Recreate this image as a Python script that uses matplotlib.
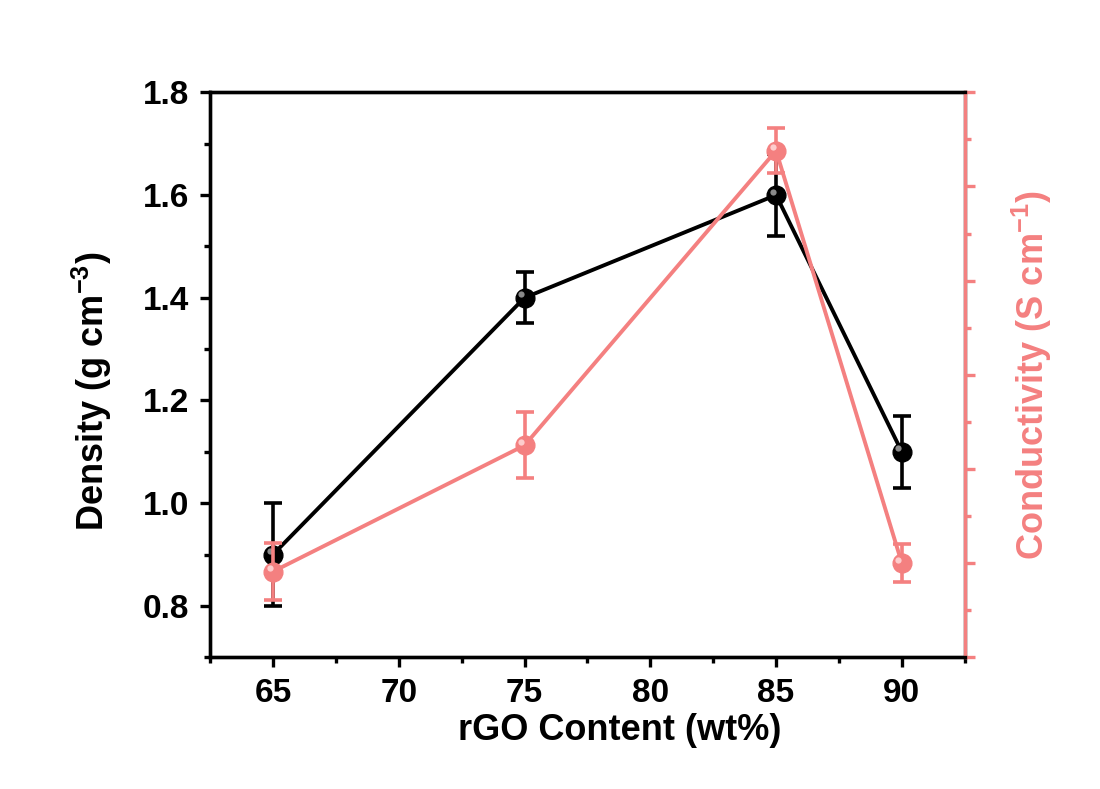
import matplotlib.pyplot as plt
import matplotlib.transforms as mtransforms
from matplotlib.ticker import MultipleLocator, NullFormatter

plt.rcParams['font.family'] = ['Liberation Sans', 'DejaVu Sans']
plt.rcParams['font.weight'] = 'bold'
plt.rcParams['mathtext.fontset'] = 'custom'
plt.rcParams['mathtext.bf'] = 'Liberation Sans:bold'
plt.rcParams['mathtext.rm'] = 'Liberation Sans:bold'
plt.rcParams['mathtext.default'] = 'bf'

rgo = [65, 75, 85, 90]
density = [0.9, 1.4, 1.6, 1.1]
density_err = [0.1, 0.05, 0.08, 0.07]
conductivity = [0.91, 2.25, 5.38, 1.0]
conductivity_err = [0.3, 0.35, 0.24, 0.2]

pink = '#F48080'

fig = plt.figure(figsize=(11, 7.89), dpi=100)
ax = fig.add_axes([0.191, 0.167, 0.686, 0.716])
ax2 = ax.twinx()


def draw(a, y, yerr, color, hl):
    a.errorbar(rgo, y, yerr=yerr, color=color, lw=2.8, elinewidth=2.6,
               capsize=6.5, capthick=2.6, marker='o', ms=13.5, mfc=color,
               mec=color, zorder=3)
    off = mtransforms.offset_copy(a.transData, fig=fig, x=-2.5, y=2.5,
                                  units='points')
    a.plot(rgo, y, 'o', ms=4.5, color=hl, mec='none', alpha=0.9,
           transform=off, zorder=4)


draw(ax, density, density_err, 'black', '#9a9a9a')
draw(ax2, conductivity, conductivity_err, pink, '#ffd6d6')

ax.set_xlim(62.5, 92.5)
ax.set_ylim(0.7, 1.8)
ax2.set_ylim(0, 6)

ax.xaxis.set_major_locator(MultipleLocator(5))
ax.xaxis.set_minor_locator(MultipleLocator(2.5))
ax.yaxis.set_major_locator(MultipleLocator(0.2))
ax.yaxis.set_minor_locator(MultipleLocator(0.1))
ax.yaxis.set_major_formatter(plt.FormatStrFormatter('%.1f'))
ax2.yaxis.set_major_locator(MultipleLocator(1))
ax2.yaxis.set_minor_locator(MultipleLocator(0.5))
ax2.yaxis.set_major_formatter(NullFormatter())

for a in (ax, ax2):
    for s in a.spines.values():
        s.set_linewidth(2.4)
ax2.spines['right'].set_color(pink)
ax.tick_params(axis='both', which='major', direction='out', length=7,
               width=2.4, labelsize=24, pad=8)
ax.tick_params(axis='both', which='minor', direction='out', length=4,
               width=2.4)
ax2.tick_params(axis='y', which='major', direction='out', length=7,
                width=2.4, color=pink)
ax2.tick_params(axis='y', which='minor', direction='out', length=4,
                width=2.4, color=pink)

ax.set_xlabel('rGO Content (wt%)', fontsize=26, fontweight='bold')
ax.set_ylabel('Density (g cm$^{-3}$)', fontsize=26, fontweight='bold')
ax2.set_ylabel('Conductivity (S cm$^{-1}$)', fontsize=26, fontweight='bold',
               color=pink, labelpad=22)
ax.xaxis.set_label_coords(0.543, -0.098)
ax.yaxis.set_label_coords(-0.128, 0.47)

fig.savefig('out.png', dpi=100, facecolor='white')
